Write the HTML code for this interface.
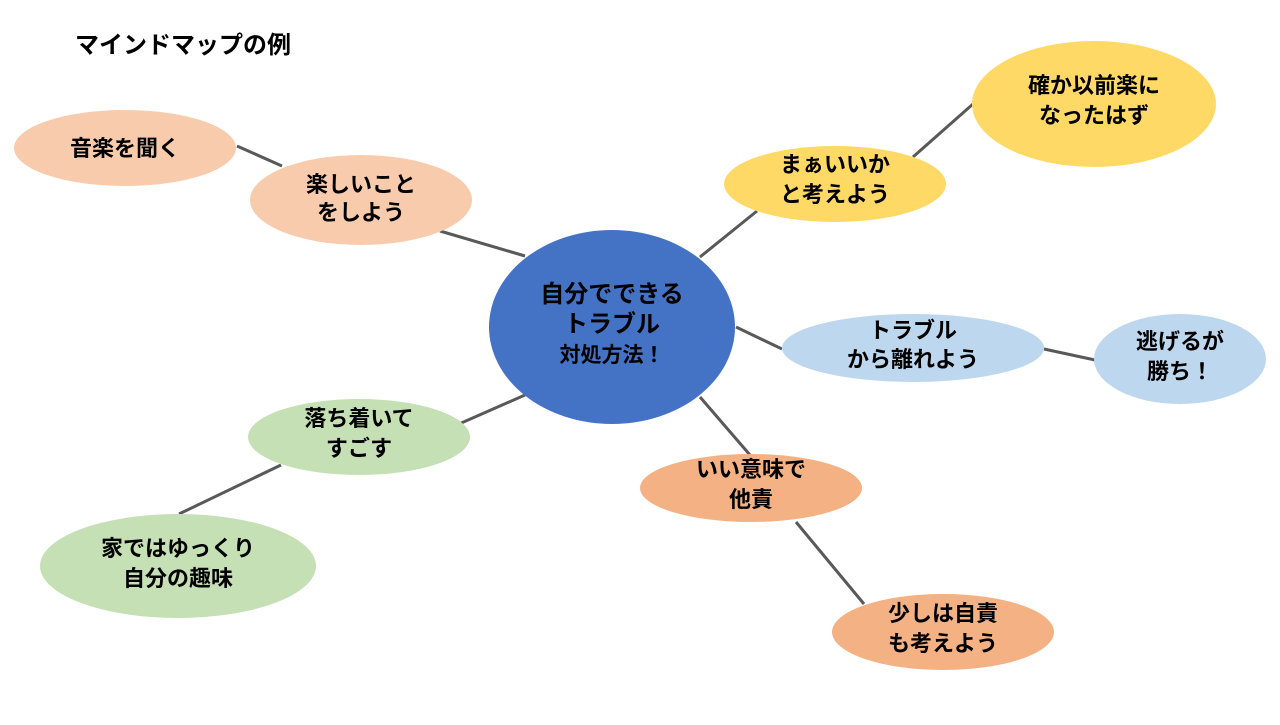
<!DOCTYPE html>
<html><head><meta charset="utf-8"><style>
html,body{margin:0;padding:0;background:#fff;}
svg text{font-family:"Liberation Sans","Noto Sans CJK JP",sans-serif;font-weight:bold;fill:#000;}
</style></head><body>
<svg width="1280" height="720" viewBox="0 0 1280 720" xmlns="http://www.w3.org/2000/svg">
<g stroke="#595959" stroke-width="3">
<line x1="237" y1="146" x2="282" y2="166"/>
<line x1="440" y1="231" x2="525" y2="256"/>
<line x1="700" y1="257" x2="757" y2="211"/>
<line x1="913" y1="157" x2="973" y2="104"/>
<line x1="736" y1="327" x2="782" y2="349"/>
<line x1="1044" y1="349" x2="1095" y2="360"/>
<line x1="700" y1="397" x2="750" y2="455"/>
<line x1="796" y1="522" x2="864" y2="604"/>
<line x1="525" y1="395" x2="459" y2="424"/>
<line x1="281" y1="465" x2="179" y2="514"/>
</g>
<ellipse cx="612" cy="327" rx="123" ry="97" fill="#4472C4"/>
<ellipse cx="125" cy="148" rx="111" ry="38" fill="#F8CBAD"/>
<ellipse cx="361" cy="200" rx="111" ry="45" fill="#F8CBAD"/>
<ellipse cx="835" cy="184" rx="111" ry="38" fill="#FFD966"/>
<ellipse cx="1094" cy="104" rx="122" ry="63" fill="#FFD966"/>
<ellipse cx="913" cy="348" rx="131" ry="34" fill="#BDD7EE"/>
<ellipse cx="1180" cy="359" rx="86" ry="45" fill="#BDD7EE"/>
<ellipse cx="751" cy="488" rx="111" ry="34" fill="#F4B183"/>
<ellipse cx="943" cy="632" rx="111" ry="38" fill="#F4B183"/>
<ellipse cx="359" cy="437" rx="111" ry="38" fill="#C5E0B4"/>
<ellipse cx="178" cy="566" rx="138" ry="52" fill="#C5E0B4"/>
<text x="75" y="53" font-size="24">マインドマップの例</text>
<g font-size="22" text-anchor="middle">
<text x="612" y="302" font-size="24">自分でできる</text>
<text x="612" y="332" font-size="24">トラブル</text>
<text x="612" y="362" font-size="21">対処方法！</text>
<text x="125" y="156">音楽を聞く</text>
<text x="361" y="192">楽しいこと</text>
<text x="361" y="220">をしよう</text>
<text x="835" y="172">まぁいいか</text>
<text x="835" y="202">と考えよう</text>
<text x="1094" y="93">確か以前楽に</text>
<text x="1094" y="123">なったはず</text>
<text x="913" y="338">トラブル</text>
<text x="913" y="367">から離れよう</text>
<text x="1180" y="349">逃げるが</text>
<text x="1180" y="379">勝ち！</text>
<text x="751" y="477">いい意味で</text>
<text x="751" y="507">他責</text>
<text x="943" y="621">少しは自責</text>
<text x="943" y="651">も考えよう</text>
<text x="359" y="426">落ち着いて</text>
<text x="359" y="456">すごす</text>
<text x="178" y="556">家ではゆっくり</text>
<text x="178" y="586">自分の趣味</text>
</g>
</svg>
</body></html>
